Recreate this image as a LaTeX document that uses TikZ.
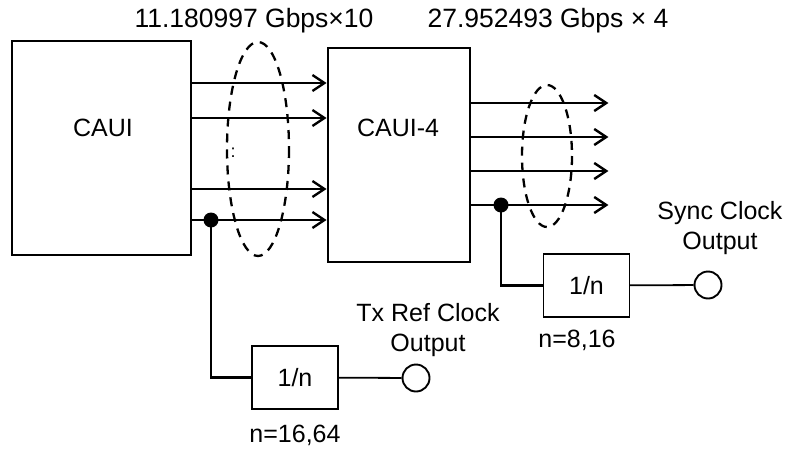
\documentclass[tikz,border=0pt]{standalone}
\usepackage{fontspec}
\setmainfont{Liberation Sans}
\usetikzlibrary{arrows.meta}
\begin{document}
\begin{tikzpicture}[x=1pt,y=-1pt,font=\fontsize{25}{30}\selectfont,
  bigbox/.style={draw,line width=2.8pt,inner sep=0pt},
  divbox/.style={draw,line width=1.1pt,minimum width=86pt,minimum height=63pt,inner sep=0pt},
  lane/.style={-{Straight Barb[length=12pt,width=16pt]},line width=2.4pt},
  outpin/.style={draw,circle,fill=white,line width=1.9pt,minimum size=27pt,inner sep=0pt},
  tapdot/.style={circle,fill,inner sep=0pt,minimum size=15pt},
  bundle/.style={line width=2.3pt,dash pattern=on 9pt off 7pt},
  ratelbl/.style={font=\fontsize{26.5}{30}\selectfont}]
\useasboundingbox (0,0) rectangle (792,450);
\node[bigbox,minimum width=179pt,minimum height=214pt] (caui) at (101.5,148) {};
\node (cauilbl) at (103,128) {CAUI};
\node[bigbox,minimum width=142pt,minimum height=214pt] (caui4) at (399,155) {};
\node (caui4lbl) at (398,128) {CAUI-4};
\node[ratelbl] (rate1) at (254,21) {11.180997 Gbps×10};
\node[ratelbl] (rate2) at (548,21) {27.952493 Gbps × 4};
\foreach \y in {83,118,189,220}
  \draw[lane] (caui.east |- 0,\y) -- (caui4.west |- 0,\y);
\foreach \y in {103,137,171,205}
  \draw[lane] (caui4.east |- 0,\y) -- ++(137,0);
\node[font=\fontsize{18}{20}\selectfont] (gap) at (233,153) {:};
\draw[bundle] (258,149) ellipse [x radius=31,y radius=107];
\draw[bundle] (547,156) ellipse [x radius=25,y radius=71];
\node[tapdot] (tap1) at (211,220) {};
\node[tapdot] (tap2) at (501,205) {};
\node[divbox] (div1) at (295,377.5) {1/n};
\node[divbox] (div2) at (586.5,285.5) {1/n};
\node[outpin] (pin1) at (416,378) {};
\node[outpin] (pin2) at (708,285) {};
\draw[line width=2.4pt] (tap1.center) |- (div1.west);
\draw[line width=2.4pt] (tap2.center) |- (div2.west);
\draw[line width=1.8pt] (div1) -- (pin1);
\draw[line width=1.8pt] (div2) -- (pin2);
\node (n1) at (295,435) {n=16,64};
\node (n2) at (577,340) {n=8,16};
\node[align=center] (txref) at (428,330) {Tx Ref Clock\\Output};
\node[align=center] (sync) at (720,228) {Sync Clock\\Output};
\end{tikzpicture}
\end{document}
